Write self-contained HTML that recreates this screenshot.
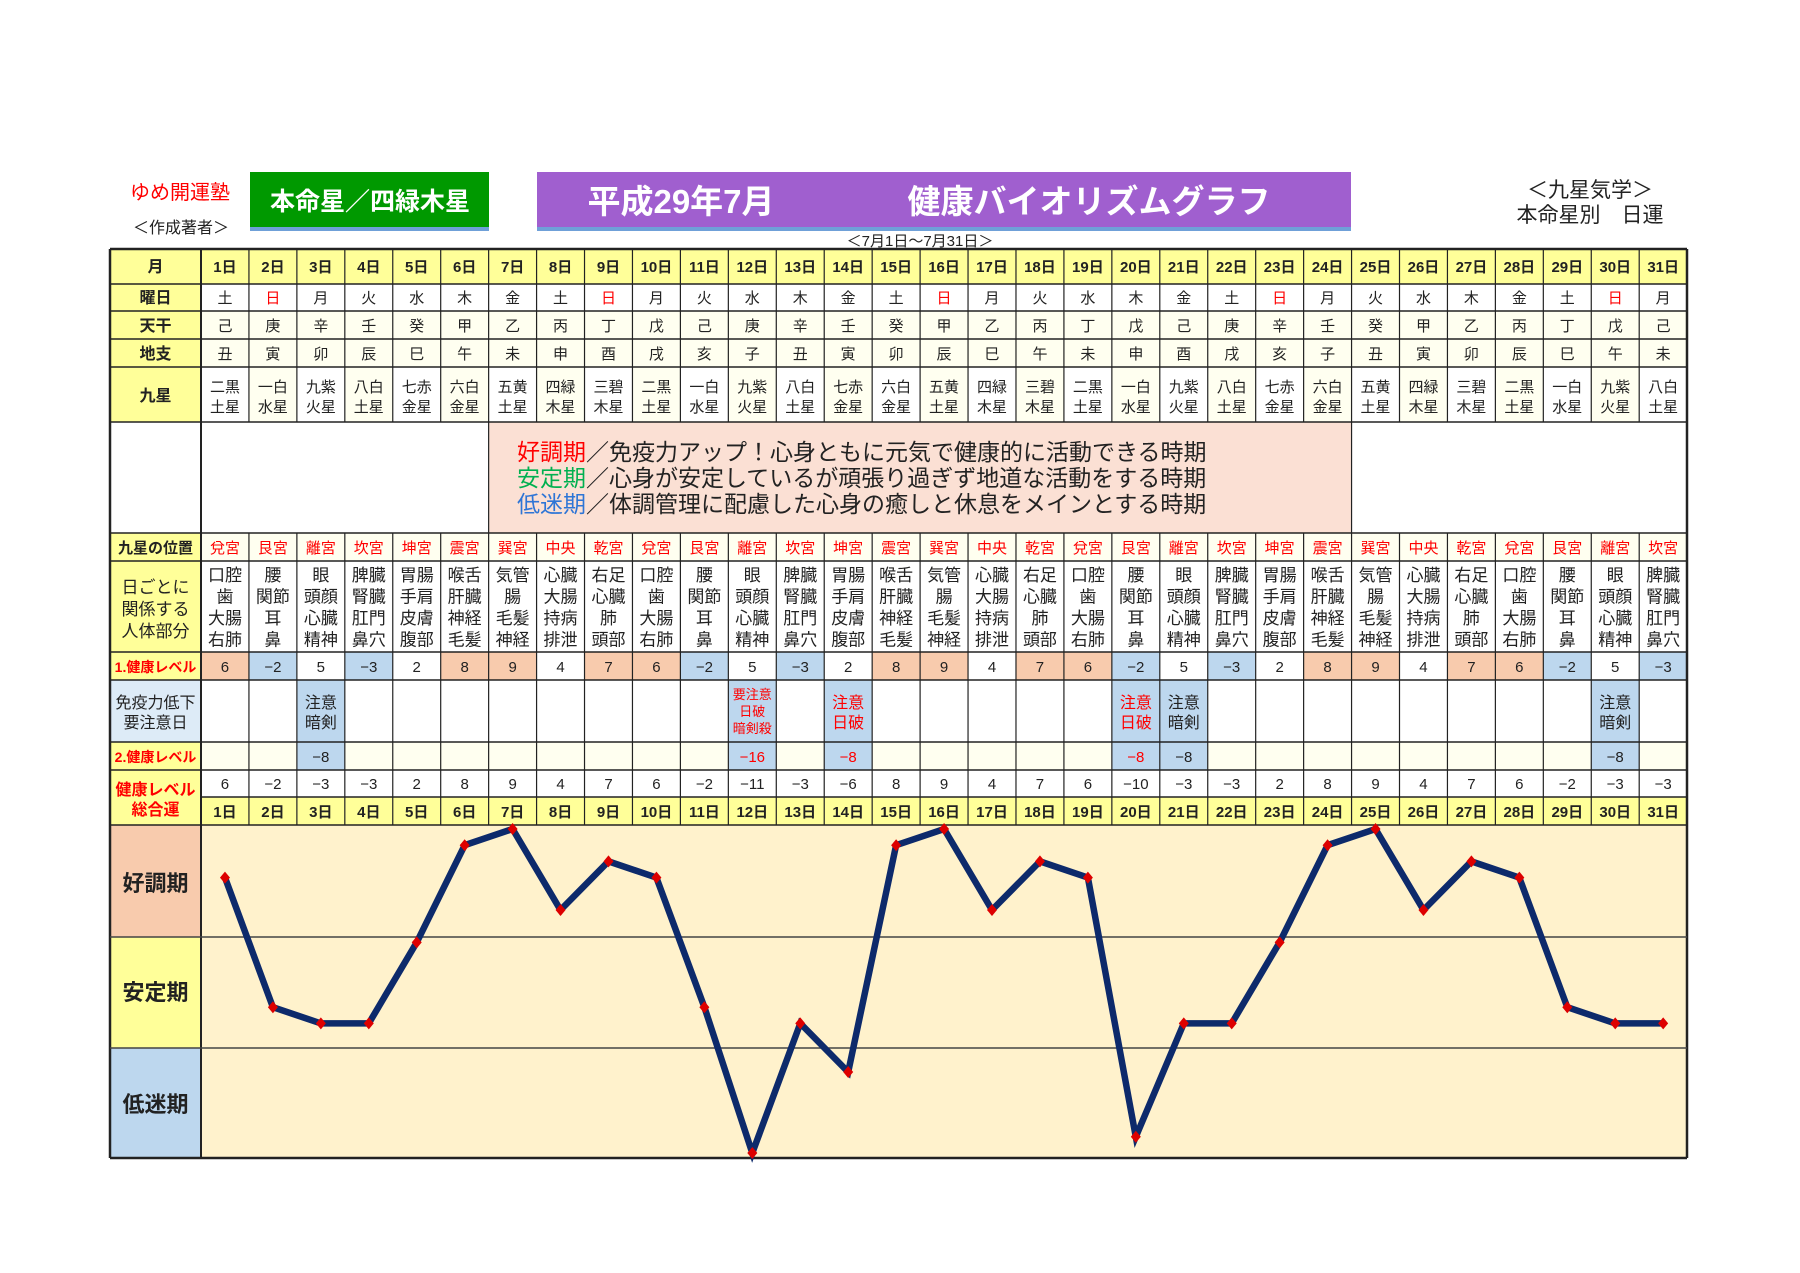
<!DOCTYPE html>
<html><head><meta charset="utf-8">
<style>
html,body{margin:0;padding:0;background:#fff;}
svg{display:block;}
text{font-family:"Liberation Sans","Noto Sans CJK JP",sans-serif;}
</style></head>
<body>
<svg id="s" width="1800" height="1273" viewBox="0 0 1800 1273" xmlns="http://www.w3.org/2000/svg">
<rect x="0" y="0" width="1800" height="1273" fill="#fff"/>
<text x="180" y="199" font-size="20" fill="#ff0000" text-anchor="middle">ゆめ開運塾</text>
<text x="181" y="233" font-size="16" fill="#222" text-anchor="middle">＜作成著者＞</text>
<rect x="250" y="172" width="239" height="59" fill="#6fa0d8"/>
<rect x="250" y="172" width="239" height="55" fill="#009900"/>
<text x="370" y="210" font-size="25" font-weight="bold" fill="#fff" text-anchor="middle">本命星／四緑木星</text>
<rect x="537" y="172" width="814" height="59" fill="#6fa0d8"/>
<rect x="537" y="172" width="814" height="55" fill="#a05fcf"/>
<text x="681" y="213" font-size="33" font-weight="bold" fill="#fff" text-anchor="middle">平成29年7月</text>
<text x="1089" y="213" font-size="33" font-weight="bold" fill="#fff" text-anchor="middle">健康バイオリズムグラフ</text>
<text x="1590" y="197" font-size="21" fill="#222" text-anchor="middle">＜九星気学＞</text>
<text x="1590" y="222" font-size="21" fill="#222" text-anchor="middle">本命星別　日運</text>
<text x="920" y="246" font-size="15" fill="#222" text-anchor="middle">＜7月1日～7月31日＞</text>
<g id="g"></g>
</svg>
<script>
(function(){
var NS="http://www.w3.org/2000/svg",g=document.getElementById('g');
function el(t,a,txt){var e=document.createElementNS(NS,t);for(var k in a)e.setAttribute(k,a[k]);if(txt!=null)e.textContent=txt;g.appendChild(e);return e;}
function R(x,y,w,h,f){el('rect',{x:x,y:y,width:w,height:h,fill:f});}
function T(x,y,s,c,txt,b){el('text',{x:x,y:y,'font-size':s,fill:c,'text-anchor':'middle','font-weight':b?'bold':'normal'},txt);}
var L=110,C0=201,W=47.94,RX=1687;
function cx(i){return C0+W*i+W/2;}
var Y=[249,284,311,339,367,422,533,561,652,680,742,770,797,825,1158];
var YEL="#ffff99",CRM="#fffff0",PNK="#f8cbad",BLU="#bdd7ee",LB="#ddebf7";
var wd=["土","日","月","火","水","木","金"];
var tk="甲乙丙丁戊己庚辛壬癸",ch="子丑寅卯辰巳午未申酉戌亥";
var st=["一白","二黒","三碧","四緑","五黄","六白","七赤","八白","九紫"],se=["水星","土星","木星","木星","土星","金星","金星","土星","火星"];
var pal=["兌宮","艮宮","離宮","坎宮","坤宮","震宮","巽宮","中央","乾宮"];
var body={"兌宮":["口腔","歯","大腸","右肺"],"艮宮":["腰","関節","耳","鼻"],"離宮":["眼","頭顔","心臓","精神"],"坎宮":["脾臓","腎臓","肛門","鼻穴"],"坤宮":["胃腸","手肩","皮膚","腹部"],"震宮":["喉舌","肝臓","神経","毛髪"],"巽宮":["気管","腸","毛髪","神経"],"中央":["心臓","大腸","持病","排泄"],"乾宮":["右足","心臓","肺","頭部"]};
var lv={"兌宮":6,"艮宮":-2,"離宮":5,"坎宮":-3,"坤宮":2,"震宮":8,"巽宮":9,"中央":4,"乾宮":7};
var sp={3:[["注意","暗剣"],"-8","#222"],12:[["要注意","日破","暗剣殺"],"-16","#ff0000"],14:[["注意","日破"],"-8","#ff0000"],20:[["注意","日破"],"-8","#ff0000"],21:[["注意","暗剣"],"-8","#222"],30:[["注意","暗剣"],"-8","#222"]};
var tot=[6,-2,-3,-3,2,8,9,4,7,6,-2,-11,-3,-6,8,9,4,7,6,-10,-3,-3,2,8,9,4,7,6,-2,-3,-3];
function m(v){return v<0?"−"+(-v):""+v;}
R(L,Y[0],C0-L,Y[5]-Y[0],YEL);R(L,Y[5],C0-L,Y[6]-Y[5],"#fff");
R(L,Y[6],C0-L,Y[9]-Y[6],YEL);R(L,Y[9],C0-L,Y[10]-Y[9],LB);R(L,Y[10],C0-L,Y[13]-Y[10],YEL);
R(L,Y[13],C0-L,937-Y[13],PNK);R(L,937,C0-L,111,YEL);R(L,1048,C0-L,110,BLU);
var lc=C0-L,lx=L+lc/2;
T(lx,272,16,"#222","月",1);T(lx,303,16,"#222","曜日",1);T(lx,331,16,"#222","天干",1);T(lx,359,16,"#222","地支",1);T(lx,401,16,"#222","九星",1);
T(lx,553,15,"#222","九星の位置",1);
T(lx,593,17,"#222","日ごとに");T(lx,615,17,"#222","関係する");T(lx,637,17,"#222","人体部分");
T(lx,672,14,"#ff0000","1.健康レベル",1);T(lx,708,16,"#222","免疫力低下");T(lx,728,16,"#222","要注意日");
T(lx,762,14,"#ff0000","2.健康レベル",1);T(lx,795,16,"#ff0000","健康レベル",1);T(lx,815,16,"#ff0000","総合運",1);
T(lx,891,22,"#222","好調期",1);T(lx,1000,22,"#222","安定期",1);T(lx,1112,22,"#222","低迷期",1);
R(C0,Y[5],RX-C0,Y[6]-Y[5],"#fff");R(C0+W*6,Y[5],W*18,Y[6]-Y[5],"#fbe0d4");
R(C0,Y[13],RX-C0,Y[14]-Y[13],"#fff2cc");
for(var i=0;i<31;i++){
 var x=C0+W*i,c=cx(i),d=i+1;
 R(x,Y[0],W,Y[1]-Y[0],YEL);T(c,272,15,"#222",d+"日",1);
 R(x,Y[1],W,Y[2]-Y[1],"#fff");var w=wd[i%7];T(c,303,15,w=="日"?"#ff0000":"#222",w);
 R(x,Y[2],W,Y[4]-Y[2],CRM);T(c,331,15,"#222",tk[(5+i)%10]);T(c,359,15,"#222",ch[(1+i)%12]);
 var si=((1-i)%9+9)%9;R(x,Y[4],W,Y[5]-Y[4],i%2?CRM:"#fff");T(c,392,15,"#222",st[si]);T(c,412,15,"#222",se[si]);
 var p=pal[i%9];R(x,Y[6],W,Y[7]-Y[6],CRM);T(c,553,15,"#ff0000",p);
 R(x,Y[7],W,Y[8]-Y[7],"#fff");var b=body[p];for(var k=0;k<4;k++)T(c,581+k*21.5,17,"#222",b[k]);
 var v=lv[p];R(x,Y[8],W,Y[9]-Y[8],v>=6?PNK:(v<0?BLU:"#fff"));T(c,672,15,"#222",m(v));
 var s=sp[d];
 R(x,Y[9],W,Y[10]-Y[9],s?BLU:"#fff");R(x,Y[10],W,Y[11]-Y[10],s?BLU:CRM);
 if(s){var n=s[0].length;if(n==3){for(k=0;k<3;k++)T(c,699+k*17,13,s[2],s[0][k]);}else{T(c,708,16,s[2],s[0][0]);T(c,728,16,s[2],s[0][1]);}T(c,762,15,s[2],"−"+s[1].slice(1));}
 R(x,Y[11],W,Y[12]-Y[11],"#fff");T(c,789,15,"#222",m(tot[i]));
 R(x,Y[12],W,Y[13]-Y[12],YEL);T(c,817,15,"#222",d+"日",1);
}
function line(y,a,col,rest){var t=el('text',{x:517,y:y,'font-size':23,fill:'#222'});var s1=document.createElementNS(NS,'tspan');s1.setAttribute('fill',col);s1.textContent=a;t.appendChild(s1);var s2=document.createElementNS(NS,'tspan');s2.textContent=rest;t.appendChild(s2);}
line(460,"好調期","#ff0000","／免疫力アップ！心身ともに元気で健康的に活動できる時期");
line(486,"安定期","#00b050","／心身が安定しているが頑張り過ぎず地道な活動をする時期");
line(512,"低迷期","#2e75d6","／体調管理に配慮した心身の癒しと休息をメインとする時期");
function ln(x1,y1,x2,y2,w,c){el('line',{x1:x1,y1:y1,x2:x2,y2:y2,stroke:c||"#222",'stroke-width':w});}
for(var r=0;r<Y.length;r++){ if(r==12){ln(C0,Y[r],RX,Y[r],1.5);continue;} ln(L,Y[r],RX,Y[r],r==0||r==14?2.5:1.5);}
ln(L,Y[0],L,Y[14],2.5);ln(RX,Y[0],RX,Y[14],2.5);ln(C0,Y[0],C0,Y[14],2);
for(i=1;i<31;i++){var x=C0+W*i;ln(x,Y[0],x,Y[5],1.2);ln(x,Y[6],x,Y[13],1.2);}
ln(C0+W*6,Y[5],C0+W*6,Y[6],1.2);ln(C0+W*24,Y[5],C0+W*24,Y[6],1.2);
ln(L,937,RX,937,1.5,"#444");ln(L,1048,RX,1048,1.5,"#444");
var pts=[];for(i=0;i<31;i++)pts.push(cx(i).toFixed(1)+","+(829+(9-tot[i])*16.2).toFixed(1));
el('polyline',{points:pts.join(" "),fill:"none",stroke:"#0d2a6b",'stroke-width':6.5,'stroke-linejoin':'miter'});
for(i=0;i<31;i++){var px=cx(i),py=829+(9-tot[i])*16.2;el('polygon',{points:px+","+(py-6)+" "+(px+5)+","+py+" "+px+","+(py+6)+" "+(px-5)+","+py,fill:"#dd0000"});}
})();
</script>
</body></html>
